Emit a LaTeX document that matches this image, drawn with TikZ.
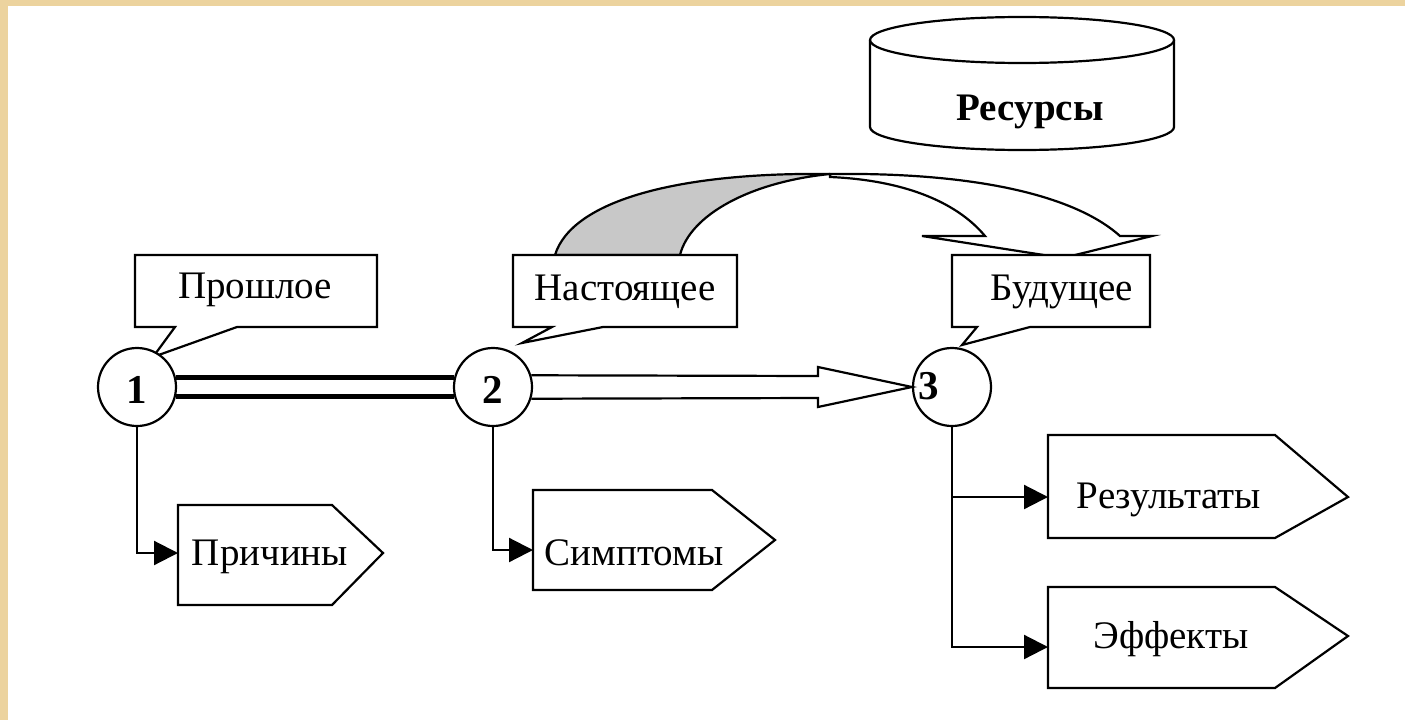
\documentclass[tikz,border=0pt]{standalone}
\usepackage{fontspec}
\setmainfont{Liberation Serif}
\usetikzlibrary{arrows.meta}
\definecolor{tanborder}{RGB}{236,211,158}
\definecolor{greyfill}{RGB}{200,200,200}
\begin{document}
\begin{tikzpicture}[x=1pt,y=-1pt,line join=miter,
  bx/.style={draw=black,line width=2.2pt,fill=white},
  conn/.style={draw=black,line width=2.2pt},
  lbl/.style={font=\fontsize{39}{46}\selectfont,inner sep=0pt},
  num/.style={font=\bfseries\fontsize{41}{46}\selectfont,inner sep=0pt},
  circ/.style={circle,draw=black,line width=2.2pt,fill=white,minimum size=78pt,inner sep=0pt},
  tiparrow/.style={-{Triangle[length=24pt,width=24pt]}}]
\useasboundingbox (0,0) rectangle (1405,720);
\fill[tanborder] (0,0) rectangle (1405,720);
\fill[white] (8,6) rectangle (1405,720);

% resources cylinder
\filldraw[bx] (870,40) -- (870,127) arc[start angle=180,end angle=0,x radius=152,y radius=23] -- (1174,40);
\draw[bx] (1022,40) ellipse[x radius=152,y radius=23];
\node[lbl,font=\bfseries\fontsize{39}{46}\selectfont] (res) at (1030,112) {Ресурсы};

% twisted arrow
\filldraw[conn,fill=greyfill] (555,255) .. controls (572,200) and (680,172) .. (830,174)
  .. controls (750,182) and (690,215) .. (680,255) -- cycle;
\filldraw[conn,fill=white] (830,174) .. controls (990,172) and (1080,200) .. (1120,236)
  -- (1152,236) -- (1063,258) -- (922,236) -- (985,236)
  .. controls (955,200) and (900,180) .. (830,177) -- cycle;

% callout boxes
\filldraw[bx] (135,255) -- (377,255) -- (377,327) -- (237,327) -- (153,357) -- (175,327) -- (135,327) -- cycle;
\node[lbl] (past) at (255,290) {Прошлое};
\filldraw[bx] (513,255) -- (737,255) -- (737,327) -- (603,327) -- (522,343) -- (552,327) -- (513,327) -- cycle;
\node[lbl] (pres) at (625,292) {Настоящее};
\filldraw[bx] (952,255) -- (1150,255) -- (1150,327) -- (1030,327) -- (962,345) -- (977,327) -- (952,327) -- cycle;
\node[lbl] (fut) at (1062,292) {Будущее};

% circles
\node[circ] (c1) at (137,387) {};
\node[num] (n1) at (137,390) {1};
\node[circ] (c2) at (493,387) {};
\node[num] (n2) at (493,390) {2};
\node[circ] (c3) at (952,387) {};
\node[num] (n3) at (929,386) {3};

% double line 1-2
\draw[line width=5pt] (c1.14) -- (c2.166);
\draw[line width=5pt] (c1.-14) -- (c2.-166);

% open arrow 2-3
\coordinate (a1) at (818,376);
\coordinate (a2) at (818,367);
\coordinate (a3) at (818,407);
\coordinate (a4) at (818,398);
\draw[conn] (c2.17) -- (a1) -- (a2) -- (c3.west) -- (a3) -- (a4) -- (c2.-17);

% pentagons
\filldraw[bx] (178,505) -- (332,505) -- (383,553) -- (332,605) -- (178,605) -- cycle;
\coordinate (prW) at (178,553);
\node[lbl] (pr) at (270,557) {Причины};
\filldraw[bx] (533,490) -- (712,490) -- (775,540) -- (712,590) -- (533,590) -- cycle;
\coordinate (smW) at (533,550);
\node[lbl] (sm) at (634,553) {Симптомы};
\filldraw[bx] (1048,435) -- (1275,435) -- (1348,497) -- (1275,538) -- (1048,538) -- cycle;
\coordinate (rzW) at (1048,497);
\node[lbl] (rz) at (1169,500) {Результаты};
\filldraw[bx] (1048,587) -- (1275,587) -- (1348,636) -- (1275,688) -- (1048,688) -- cycle;
\coordinate (efW) at (1048,647);
\node[lbl] (ef) at (1171,639) {Эффекты};

% connectors
\draw[conn,tiparrow] (c1.south) |- (prW);
\draw[conn,tiparrow] (c2.south) |- (smW);
\draw[conn,tiparrow] (c3.south) |- (efW);
\coordinate (br) at (952,497);
\draw[conn,tiparrow] (br) -- (rzW);
\end{tikzpicture}
\end{document}
